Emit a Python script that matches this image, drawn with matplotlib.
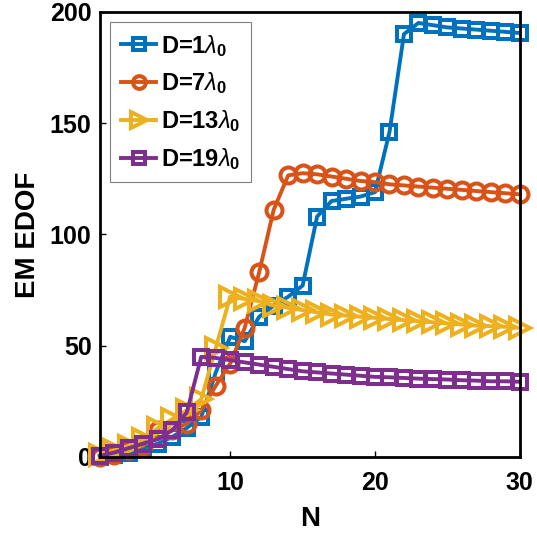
import matplotlib
matplotlib.use("Agg")
import matplotlib.pyplot as plt

plt.rcParams["font.family"] = ["Liberation Sans", "DejaVu Sans"]
plt.rcParams["font.weight"] = "bold"
plt.rcParams["mathtext.fontset"] = "custom"
plt.rcParams["mathtext.rm"] = "Liberation Sans:bold"
plt.rcParams["mathtext.it"] = "Liberation Sans:italic:weight=normal"
plt.rcParams["mathtext.bf"] = "Liberation Sans:bold"

N = list(range(1, 31))

d1 = [0, 1, 2, 4, 6, 9, 13, 18, 38, 54, 52, 63, 68, 72, 77, 108, 115, 116, 117, 119,
      146, 190, 195, 194, 193, 192.5, 192, 191.5, 191, 190.5]
d7 = [0, 1, 3, 5, 12, 12, 15, 21, 32, 42, 58, 83, 111, 126.5, 127.5, 127, 126, 125,
      124, 123.5, 122.5, 122, 121.5, 121, 120.5, 120, 119.5, 119, 118.5, 118]
d13 = [1, 3, 5, 8, 13, 17, 21, 26, 49, 72, 71, 70, 68, 67, 66, 65, 64, 63.5, 63, 62.5,
       62, 61.5, 61, 60.5, 60, 59.5, 59, 58.8, 58.5, 58]
d19 = [0.5, 2, 4, 6, 8, 12, 20, 45, 44.5, 43.5, 42.5, 41.5, 40.5, 39.5, 38.5, 38, 37.5,
       37, 36.5, 36, 35.8, 35.5, 35.2, 35, 34.8, 34.5, 34.3, 34, 34, 33.8]

labels = [r"D=1$\mathit{\lambda}_\mathbf{0}$", r"D=7$\mathit{\lambda}_\mathbf{0}$",
          r"D=13$\mathit{\lambda}_\mathbf{0}$", r"D=19$\mathit{\lambda}_\mathbf{0}$"]
colors = ["#0072BD", "#D95319", "#EDB120", "#7E2F8E"]
markers = ["s", "o", ">", "s"]
sizes = [10.5, 11.5, 14, 10.5]

fig = plt.figure(figsize=(5.37, 5.37), dpi=100)
ax = fig.add_axes([0.186, 0.149, 0.782, 0.829])

for ys, lab, c, m, ms in zip([d1, d7, d13, d19], labels, colors, markers, sizes):
    ax.plot(N, ys, color=c, marker=m, markersize=ms, markerfacecolor="none",
            markeredgewidth=2.9, linewidth=2.8, label=lab, clip_on=False)

ax.set_xlim(1, 30)
ax.set_ylim(0, 200)
ax.set_xticks([10, 20, 30])
ax.set_yticks([0, 50, 100, 150, 200])
ax.tick_params(axis="x", direction="in", length=4, width=1, labelsize=18, pad=10)
ax.tick_params(axis="y", direction="in", length=4, width=1, labelsize=18, pad=6)
for lab in ax.get_xticklabels() + ax.get_yticklabels():
    lab.set_fontweight("bold")
for sp in ax.spines.values():
    sp.set_linewidth(2.0)

ax.set_xlabel("N", fontsize=20, fontweight="bold", labelpad=8)
ax.set_ylabel("EM EDOF", fontsize=20, fontweight="bold", labelpad=6)

leg = ax.legend(loc="upper left", bbox_to_anchor=(0.025, 0.977), fontsize=17,
                handlelength=1.5, handletextpad=0.2, borderpad=0.45,
                labelspacing=0.5, fancybox=False, framealpha=1,
                edgecolor="#808080", borderaxespad=0, markerscale=0.8)
leg.get_frame().set_linewidth(0.8)
for t in leg.get_texts():
    t.set_fontweight("bold")

fig.savefig("out.png", dpi=100)
